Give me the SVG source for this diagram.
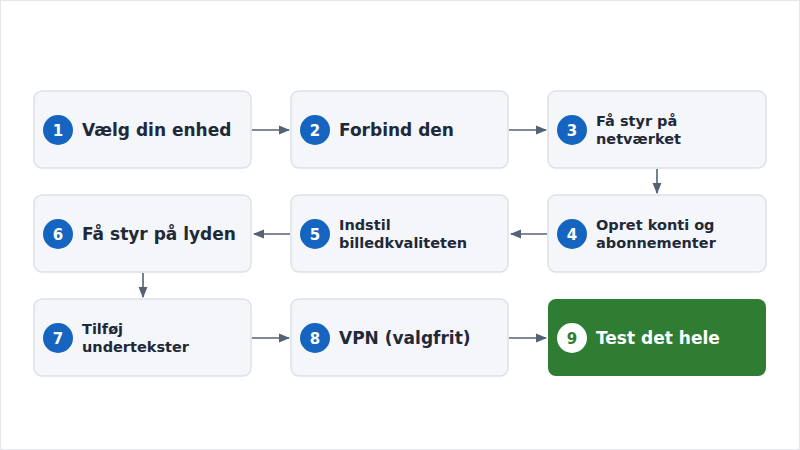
<svg xmlns="http://www.w3.org/2000/svg" width="800" height="450" viewBox="0 0 800 450">
<defs>
<style>
.b{fill:#f4f6fa;stroke:#dde1e7;stroke-width:1.5}
.c{fill:#1565c0}
.n{fill:#fff;font:bold 15px "DejaVu Sans",sans-serif;text-anchor:middle}
.t{fill:#1f2937;font:bold 17px "DejaVu Sans",sans-serif}
.s{fill:#1f2937;font:bold 14.5px "DejaVu Sans",sans-serif}
.e{stroke:#546274;stroke-width:1.6;fill:none;marker-end:url(#a)}
</style>
<marker id="a" viewBox="0 0 10 10" refX="9" refY="5" markerWidth="7" markerHeight="7" orient="auto"><path d="M0,1 L10,5 L0,9 z" fill="#546274"/></marker>
</defs>
<rect x="0.5" y="0.5" width="799" height="449" fill="#fff" stroke="#e3e6ea"/>
<g id="edges">
<path class="e" d="M252,130 H289"/>
<path class="e" d="M509,130 H546"/>
<path class="e" d="M657,169 V193"/>
<path class="e" d="M547,234 H511"/>
<path class="e" d="M290,234 H254"/>
<path class="e" d="M143,273 V297"/>
<path class="e" d="M252,338 H289"/>
<path class="e" d="M509,338 H546"/>
</g>
<g id="n1"><rect class="b" x="34" y="91" width="217" height="77" rx="8"/><circle class="c" cx="58" cy="130" r="15"/><text class="n" x="58" y="135.5">1</text><text class="t" x="82" y="136">Vælg din enhed</text></g>
<g id="n2"><rect class="b" x="291" y="91" width="217" height="77" rx="8"/><circle class="c" cx="315" cy="130" r="15"/><text class="n" x="315" y="135.5">2</text><text class="t" x="339" y="136">Forbind den</text></g>
<g id="n3"><rect class="b" x="548" y="91" width="218" height="77" rx="8"/><circle class="c" cx="572" cy="130" r="15"/><text class="n" x="572" y="135.5">3</text><text class="s" x="596" y="126">Få styr på</text><text class="s" x="596" y="144">netværket</text></g>
<g id="n4"><rect class="b" x="548" y="195" width="218" height="77" rx="8"/><circle class="c" cx="572" cy="234" r="15"/><text class="n" x="572" y="239.5">4</text><text class="s" x="596" y="230">Opret konti og</text><text class="s" x="596" y="248">abonnementer</text></g>
<g id="n5"><rect class="b" x="291" y="195" width="217" height="77" rx="8"/><circle class="c" cx="315" cy="234" r="15"/><text class="n" x="315" y="239.5">5</text><text class="s" x="339" y="230">Indstil</text><text class="s" x="339" y="248">billedkvaliteten</text></g>
<g id="n6"><rect class="b" x="34" y="195" width="217" height="77" rx="8"/><circle class="c" cx="58" cy="234" r="15"/><text class="n" x="58" y="239.5">6</text><text class="t" x="82" y="240">Få styr på lyden</text></g>
<g id="n7"><rect class="b" x="34" y="299" width="217" height="77" rx="8"/><circle class="c" cx="58" cy="338" r="15"/><text class="n" x="58" y="343.5">7</text><text class="s" x="82" y="334">Tilføj</text><text class="s" x="82" y="352">undertekster</text></g>
<g id="n8"><rect class="b" x="291" y="299" width="217" height="77" rx="8"/><circle class="c" cx="315" cy="338" r="15"/><text class="n" x="315" y="343.5">8</text><text class="t" x="339" y="344">VPN (valgfrit)</text></g>
<g id="n9"><rect x="548" y="299" width="218" height="77" rx="8" fill="#2e7d32"/><circle cx="572" cy="338" r="15" fill="#fff"/><text class="n" x="572" y="343.5" style="fill:#2e7d32">9</text><text class="t" x="596" y="344" style="fill:#fff">Test det hele</text></g>
</svg>
